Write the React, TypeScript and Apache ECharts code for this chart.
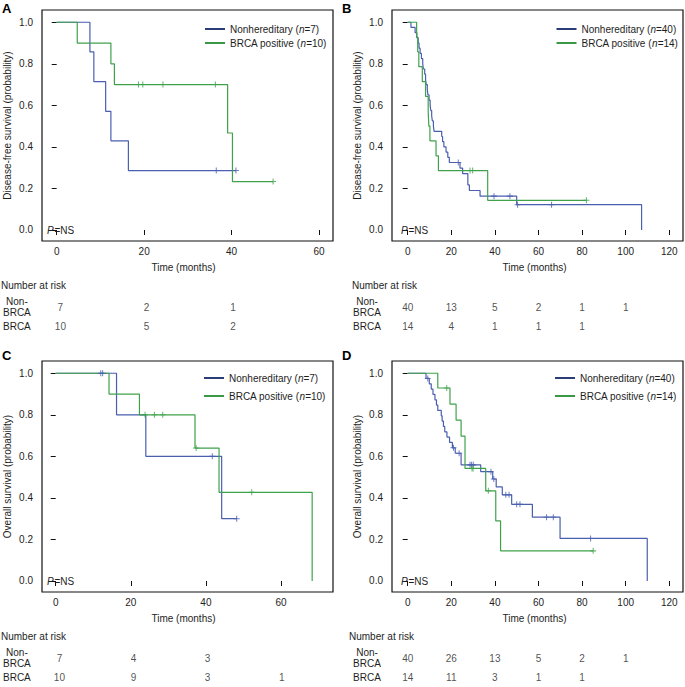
import React, { useEffect, useRef } from 'react';
import * as echarts from 'echarts';

const FONT = '"Liberation Sans", Arial, Helvetica, sans-serif';
const TEXT = '#1e1e1e';
const BLUE = '#4a5fb0';
const GREEN = '#3fa24b';
const BLUE_LEG = '#2b3d78';
const GREEN_LEG = '#3a9745';

// ---------- Panel A: disease-free survival, n=7 vs n=10 ----------
const A_NON_T = [7.6, 8.5, 11.2, 12.4, 16.4];
const A_NON_S = [0.857, 0.714, 0.571, 0.429, 0.286];
const A_NON_C = [36.5, 41.0];
const A_BRCA_T = [4.7, 12.4, 13.2, 39.1, 40.2];
const A_BRCA_S = [0.9, 0.8, 0.7, 0.467, 0.233];
const A_BRCA_C = [18.7, 19.7, 24.3, 36.3, 49.5];
const A_RISK_T = [0, 20, 40];
const A_RISK_NON = [7, 2, 1];
const A_RISK_BRCA = [10, 5, 2];

// ---------- Panel B: disease-free survival, n=40 vs n=14 ----------
const B_NON_T = [1.5, 3.4, 4.2, 4.8, 5.2, 5.7, 6.3, 6.9, 7.2, 7.8, 8.2, 8.5, 9.0, 9.3, 9.8, 10.3, 10.6, 11.0, 11.3, 11.8, 12.1,
  15.6, 16.0, 16.6, 17.6, 18.4, 19.1, 24.0, 25.2, 27.6, 28.3, 33.2, 50.0, 107.3];
const B_NON_S = [0.975, 0.95, 0.925, 0.9, 0.875, 0.85, 0.825, 0.8, 0.775, 0.75, 0.725, 0.7, 0.675, 0.65, 0.625, 0.6, 0.575, 0.55, 0.525, 0.5, 0.475,
  0.45, 0.425, 0.4, 0.375, 0.35, 0.325, 0.298, 0.271, 0.217, 0.19, 0.163, 0.122, 0];
const B_NON_C = [23.2, 39.6, 46.9, 50.4, 66.0];
const B_BRCA_T = [4.1, 4.6, 5.1, 6.7, 8.2, 9.4, 9.7, 10.2, 13.0, 14.1, 36.7];
const B_BRCA_S = [0.929, 0.857, 0.786, 0.714, 0.643, 0.571, 0.5, 0.429, 0.357, 0.286, 0.143];
const B_BRCA_C = [28.6, 29.8, 82.0];
const B_RISK_T = [0, 20, 40, 60, 80, 100];
const B_RISK_NON = [40, 13, 5, 2, 1, 1];
const B_RISK_BRCA = [14, 4, 1, 1, 1];

// ---------- Panel C: overall survival, n=7 vs n=10 ----------
const C_NON_T = [16.2, 24.0, 44.2];
const C_NON_S = [0.8, 0.6, 0.3];
const C_NON_C = [12.0, 12.5, 41.7, 48.2];
const C_BRCA_T = [14.2, 22.3, 37.1, 43.5, 68.3];
const C_BRCA_S = [0.9, 0.8, 0.64, 0.427, 0];
const C_BRCA_C = [23.8, 26.3, 28.5, 37.4, 52.2];
const C_RISK_T = [0, 20, 40, 60];
const C_RISK_NON = [7, 4, 3];
const C_RISK_BRCA = [10, 9, 3, 1];

// ---------- Panel D: overall survival, n=40 vs n=14 ----------
const D_NON_T = [8.4, 9.9, 10.8, 11.6, 12.5, 13.2, 13.8, 15.4, 15.8, 16.4, 17.0, 18.0, 19.2, 20.5, 21.8, 24.5,
  33.5, 39.0, 40.6, 43.4, 47.7, 57.2, 69.9, 109.9];
const D_NON_S = [0.975, 0.949, 0.924, 0.898, 0.872, 0.847, 0.821, 0.795, 0.77, 0.744, 0.718, 0.693, 0.667, 0.641, 0.615, 0.559,
  0.526, 0.491, 0.453, 0.415, 0.369, 0.307, 0.205, 0];
const D_NON_C = [9.2, 21.0, 23.6, 28.6, 29.3, 30.1, 38.2, 39.5, 45.0, 46.5, 50.0, 51.5, 63.7, 66.8, 83.9];
const D_BRCA_T = [13.8, 19.4, 22.2, 24.5, 26.3, 35.8, 40.4, 42.6];
const D_BRCA_S = [0.929, 0.851, 0.774, 0.697, 0.542, 0.434, 0.289, 0.145];
const D_BRCA_C = [17.9, 29.5, 30.0, 37.0, 85.1];
const D_RISK_T = [0, 20, 40, 60, 80, 100];
const D_RISK_NON = [40, 26, 13, 5, 2, 1];
const D_RISK_BRCA = [14, 11, 3, 1, 1];

const Y_TICKS = [0, 0.2, 0.4, 0.6, 0.8, 1.0];
const X_TICKS_SHORT = [0, 20, 40, 60];
const X_TICKS_LONG = [0, 20, 40, 60, 80, 100, 120];
const ROW_LABELS = ['Non-\nBRCA', 'BRCA'];

const PANELS = [
  {
    letter: 'A', yName: 'Disease-free survival (probability)',
    grid: { left: 42, top: 10, width: 291, height: 231 }, table: { left: 42, top: 297.5, width: 291, height: 38 },
    xMin: -3.36, xMax: 63.2, xTicks: X_TICKS_SHORT, xNamePad: [0, 8, 0, 0],
    non: { t: A_NON_T, s: A_NON_S, c: A_NON_C, name: 'Nonhereditary (n=7)' },
    brca: { t: A_BRCA_T, s: A_BRCA_S, c: A_BRCA_C, name: 'BRCA positive (n=10)' },
    riskT: A_RISK_T, riskNon: A_RISK_NON, riskBrca: A_RISK_BRCA,
    legend: { left: 200, top: 18, itemGap: 2 },
    letterPos: [2, 8], pPos: [47, 230], narPos: [1, 285], rowMargin: 29,
  },
  {
    letter: 'B', yName: 'Disease-free survival (probability)',
    grid: { left: 392, top: 10, width: 291, height: 231 }, table: { left: 392, top: 297.5, width: 291, height: 38 },
    xMin: -7.2, xMax: 126.3, xTicks: X_TICKS_LONG, xNamePad: [0, 6, 0, 0],
    non: { t: B_NON_T, s: B_NON_S, c: B_NON_C, name: 'Nonhereditary (n=40)' },
    brca: { t: B_BRCA_T, s: B_BRCA_S, c: B_BRCA_C, name: 'BRCA positive (n=14)' },
    riskT: B_RISK_T, riskNon: B_RISK_NON, riskBrca: B_RISK_BRCA,
    legend: { left: 551.5, top: 18, itemGap: 2 },
    letterPos: [342, 8], pPos: [401, 230], narPos: [352, 285], rowMargin: 25,
  },
  {
    letter: 'C', yName: 'Overall survival (probability)',
    grid: { left: 42, top: 361, width: 291, height: 231 }, table: { left: 42, top: 648.5, width: 291, height: 38 },
    xMin: -3.65, xMax: 73.85, xTicks: X_TICKS_SHORT, xNamePad: [0, 8, 0, 0],
    non: { t: C_NON_T, s: C_NON_S, c: C_NON_C, name: 'Nonhereditary (n=7)' },
    brca: { t: C_BRCA_T, s: C_BRCA_S, c: C_BRCA_C, name: 'BRCA positive (n=10)' },
    riskT: C_RISK_T, riskNon: C_RISK_NON, riskBrca: C_RISK_BRCA,
    legend: { left: 199, top: 367, itemGap: 6 },
    letterPos: [2, 355], pPos: [47, 581], narPos: [1, 636], rowMargin: 29,
  },
  {
    letter: 'D', yName: 'Overall survival (probability)',
    grid: { left: 392, top: 361, width: 291, height: 231 }, table: { left: 392, top: 648.5, width: 291, height: 38 },
    xMin: -7.2, xMax: 126.3, xTicks: X_TICKS_LONG, xNamePad: [0, 6, 0, 0],
    non: { t: D_NON_T, s: D_NON_S, c: D_NON_C, name: 'Nonhereditary (n=40)' },
    brca: { t: D_BRCA_T, s: D_BRCA_S, c: D_BRCA_C, name: 'BRCA positive (n=14)' },
    riskT: D_RISK_T, riskNon: D_RISK_NON, riskBrca: D_RISK_BRCA,
    legend: { left: 550, top: 367, itemGap: 6 },
    letterPos: [342, 355], pPos: [401, 581], narPos: [349, 636], rowMargin: 25,
  },
];

const PLUS = 'path://M-0.17,-1H0.17V1H-0.17Z M-1,-0.17H1V0.17H-1Z';

function stepPoints(t: number[], s: number[], c: number[]) {
  const pts: number[][] = [[0, 1]];
  t.forEach((ti, i) => pts.push([ti, s[i]]));
  const lastT = t.length ? t[t.length - 1] : 0;
  const lastS = s.length ? s[s.length - 1] : 1;
  const maxC = c.length ? Math.max(...c) : 0;
  if (maxC > lastT) pts.push([maxC, lastS]);
  return pts;
}

function survAt(t: number[], s: number[], x: number) {
  let v = 1;
  t.forEach((ti, i) => {
    if (ti <= x) v = s[i];
  });
  return v;
}

const baseText = { fontFamily: FONT, fontSize: 10, color: TEXT };

function buildOption() {
  const plotGrids: any[] = [];
  const tableGrids: any[] = [];
  const plotX: any[] = [];
  const tableX: any[] = [];
  const plotY: any[] = [];
  const tableY: any[] = [];
  const series: any[] = [];
  const legend: any[] = [];
  const graphic: any[] = [];

  PANELS.forEach((p, i) => {
    plotGrids.push({ ...p.grid, show: true, borderColor: '#111', borderWidth: 1.2, backgroundColor: 'transparent' });
    plotX.push({
      gridIndex: i, type: 'value', min: p.xMin, max: p.xMax,
      axisLine: { show: false }, splitLine: { show: false },
      axisTick: { show: true, length: 5, lineStyle: { color: '#111', width: 1 }, customValues: p.xTicks },
      axisLabel: { ...baseText, margin: 5, customValues: p.xTicks },
      name: 'Time (months)', nameLocation: 'middle', nameGap: 21,
      nameTextStyle: { ...baseText, padding: p.xNamePad },
    });
    plotY.push({
      gridIndex: i, type: 'value', min: -0.053, max: 1.059,
      axisLine: { show: false }, splitLine: { show: false },
      axisTick: { show: true, length: 5, lineStyle: { color: '#111', width: 1 }, customValues: Y_TICKS },
      axisLabel: { ...baseText, margin: 9, customValues: Y_TICKS, formatter: (v: number) => v.toFixed(1) },
      name: p.yName, nameLocation: 'middle', nameGap: 30,
      nameTextStyle: { ...baseText },
    });

    const curves = [
      { d: p.non, color: BLUE },
      { d: p.brca, color: GREEN },
    ];
    curves.forEach(({ d, color }) => {
      series.push({
        type: 'line', name: d.name, xAxisIndex: i, yAxisIndex: i, step: 'end',
        data: stepPoints(d.t, d.s, d.c), symbol: 'none', showSymbol: false,
        lineStyle: { color, width: 1.2 }, itemStyle: { color }, silent: true, z: 3,
      });
      series.push({
        type: 'scatter', xAxisIndex: i, yAxisIndex: i,
        data: d.c.map((x) => [x, survAt(d.t, d.s, x)]),
        symbol: PLUS, symbolSize: 6, itemStyle: { color }, silent: true, z: 4,
      });
    });

    legend.push({
      orient: 'vertical', left: p.legend.left, top: p.legend.top, itemGap: p.legend.itemGap,
      itemWidth: 20, itemHeight: 2, selectedMode: false,
      textStyle: {
        ...baseText, lineHeight: 12,
        rich: {
          i: { fontFamily: FONT, fontSize: 10, color: TEXT, fontStyle: 'italic', lineHeight: 12 },
          r: { fontFamily: FONT, fontSize: 10, color: TEXT, lineHeight: 12 },
        },
      },
      formatter: (name: string) => {
        const k = name.indexOf('(n=');
        return `{r|${name.slice(0, k + 1)}}{i|n}{r|${name.slice(k + 2)}}`;
      },
      data: [
        { name: p.non.name, icon: 'rect', itemStyle: { color: BLUE_LEG } },
        { name: p.brca.name, icon: 'rect', itemStyle: { color: GREEN_LEG } },
      ],
    });

    // number-at-risk table grid (indices 4..7)
    const ti = 4 + i;
    tableGrids.push({ ...p.table, show: false });
    tableX.push({ gridIndex: ti, type: 'value', min: p.xMin, max: p.xMax, show: false });
    tableY.push({
      gridIndex: ti, type: 'category', data: ROW_LABELS, inverse: true,
      axisLine: { show: false }, axisTick: { show: false }, splitLine: { show: false },
      axisLabel: { ...baseText, align: 'center', margin: p.rowMargin, lineHeight: 11 },
    });
    const rows = [p.riskNon, p.riskBrca];
    rows.forEach((vals, r) => {
      series.push({
        type: 'scatter', xAxisIndex: ti, yAxisIndex: ti, silent: true,
        data: vals.map((n, k) => [p.riskT[k], r, n]),
        symbolSize: 1, itemStyle: { color: 'rgba(0,0,0,0)' },
        label: { show: true, position: 'inside', formatter: (q: any) => String(q.value[2]), ...baseText },
      });
    });

    graphic.push({
      type: 'text', x: p.letterPos[0], y: p.letterPos[1],
      style: { text: p.letter, fill: '#000', fontFamily: FONT, fontSize: 13, fontWeight: 'bold', verticalAlign: 'middle' },
    });
    graphic.push({
      type: 'text', x: p.pPos[0], y: p.pPos[1], z: 10,
      style: { text: 'P', fill: TEXT, fontFamily: FONT, fontSize: 10, fontStyle: 'italic', verticalAlign: 'middle' },
    });
    graphic.push({
      type: 'text', x: p.pPos[0] + 7.5, y: p.pPos[1], z: 10,
      style: { text: '=NS', fill: TEXT, fontFamily: FONT, fontSize: 10, verticalAlign: 'middle' },
    });
    graphic.push({
      type: 'text', x: p.narPos[0], y: p.narPos[1],
      style: { text: 'Number at risk', fill: TEXT, fontFamily: FONT, fontSize: 10, verticalAlign: 'middle' },
    });
  });

  return {
    animation: false,
    backgroundColor: '#ffffff',
    textStyle: { fontFamily: FONT },
    grid: [...plotGrids, ...tableGrids],
    xAxis: [...plotX, ...tableX],
    yAxis: [...plotY, ...tableY],
    series, legend, graphic,
  };
}

export default function App() {
  const ref = useRef<HTMLDivElement>(null);
  useEffect(() => {
    if (!ref.current) return;
    const chart = echarts.init(ref.current, null, { renderer: 'svg' });
    chart.setOption(buildOption() as any);
    return () => chart.dispose();
  }, []);
  return <div ref={ref} style={{ position: 'fixed', left: 0, top: 0, width: 685, height: 687, background: '#fff' }} />;
}
